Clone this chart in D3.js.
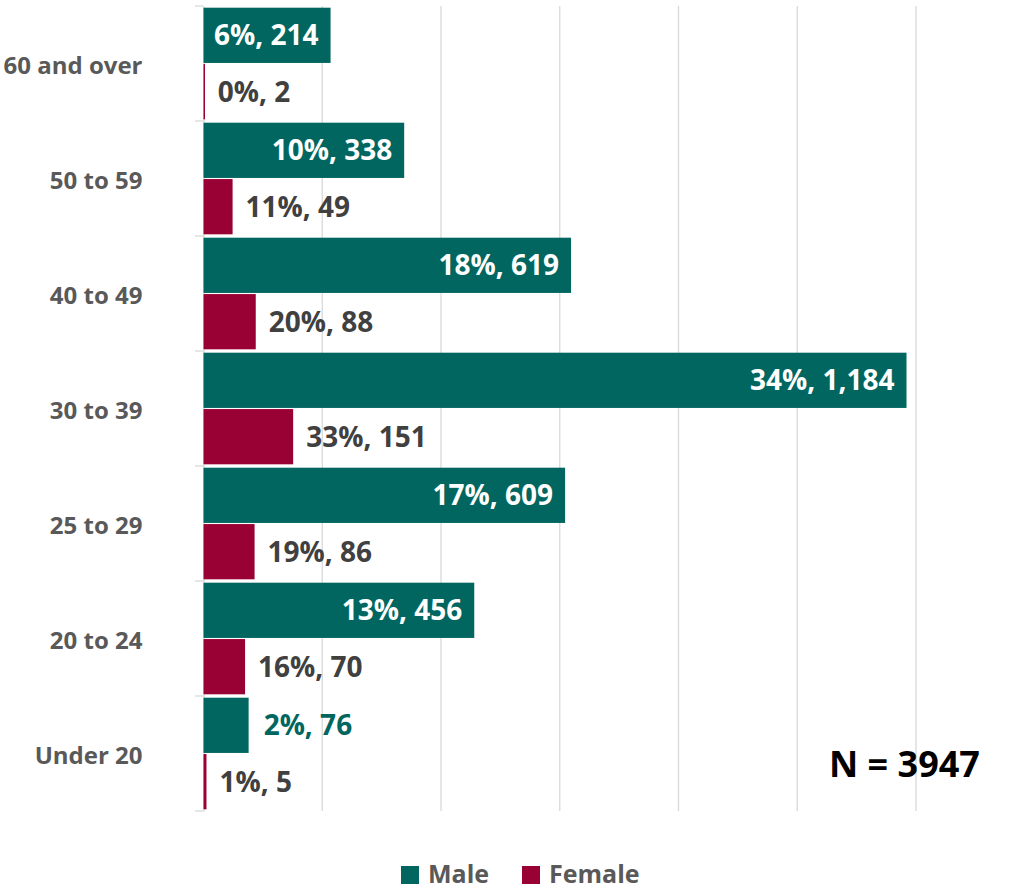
<!DOCTYPE html>
<html><head><meta charset="utf-8">
<script src="https://cdn.jsdelivr.net/npm/d3@7"></script>
<style>body{margin:0;background:#fff}svg{display:block}text{font-family:"Open Sans",sans-serif;font-weight:700}</style>
</head><body>
<svg id="c" width="1025" height="892"></svg>
<script>
const categories = ["60 and over","50 to 59","40 to 49","30 to 39","25 to 29","20 to 24","Under 20"];
const maleCounts = [214,338,619,1184,609,456,76];
const femaleCounts = [2,49,88,151,86,70,5];
const malePct = ["6%","10%","18%","34%","17%","13%","2%"];
const femalePct = ["0%","11%","20%","33%","19%","16%","1%"];
const xTicks = [0,200,400,600,800,1000,1200];
const seriesNames = ["Male","Female"];
const colors = {Male:"#00665f", Female:"#990033"};

const svg = d3.select("#c");
const x = d3.scaleLinear().domain([0,1200]).range([203.5,916]);
const y = d3.scaleBand().domain(categories).range([6,811]);
const inner = d3.scaleBand().domain(seriesNames).range([0,y.bandwidth()]).paddingOuter(0.03).paddingInner(0.02);
const fmt = d3.format(",");

// gridlines
svg.append("g").selectAll("line").data(xTicks.slice(1)).join("line")
  .attr("x1",d=>x(d)).attr("x2",d=>x(d)).attr("y1",6).attr("y2",811)
  .attr("stroke","#d9d9d9").attr("stroke-width",1.3);

// y axis
const yAxis = d3.axisLeft(y).tickSize(0).tickPadding(60);
const ax = svg.append("g").attr("transform","translate(203.5,0)").call(yAxis);
ax.select(".domain").attr("stroke","#d9d9d9").attr("stroke-width",1.3);
ax.selectAll("text").attr("font-size",24).attr("fill","#595959").attr("font-family","Open Sans").attr("font-weight",700).attr("dx",0).attr("x",-61).attr("dy","0.42em");
// band boundary ticks
svg.append("g").selectAll("line").data(categories.map(c=>y(c)).concat([y.range()[1]])).join("line")
  .attr("x1",195).attr("x2",203.5).attr("y1",d=>d).attr("y2",d=>d)
  .attr("stroke","#d9d9d9").attr("stroke-width",1.3);

const rows = categories.map((c,i)=>({c, m:maleCounts[i], f:femaleCounts[i], mp:malePct[i], fp:femalePct[i]}));

const g = svg.append("g");
rows.forEach(r=>{
  const yb = y(r.c);
  const ym = yb + inner("Male"), yf = yb + inner("Female"), h = inner.bandwidth();
  g.append("rect").attr("x",x(0)).attr("y",ym).attr("width",x(r.m)-x(0)).attr("height",h).attr("fill",colors.Male);
  g.append("rect").attr("x",x(0)).attr("y",yf).attr("width",Math.max(1.5,x(r.f)-x(0))).attr("height",h).attr("fill",colors.Female);
  const mlabel = r.mp+", "+fmt(r.m);
  const inside = x(r.m)-x(0) > 100;
  g.append("text").attr("x", inside ? x(r.m)-12 : x(r.m)+15).attr("y",ym+h/2).attr("dy","0.36em")
    .attr("text-anchor", inside ? "end":"start").attr("font-size",28)
    .attr("fill", inside ? "#fff" : colors.Male).text(mlabel);
  g.append("text").attr("x", x(r.f)+13).attr("y",yf+h/2).attr("dy","0.36em")
    .attr("font-size",28).attr("fill","#404040").text(r.fp+", "+fmt(r.f));
});

// N annotation
svg.append("text").attr("x",829).attr("y",777).attr("font-size",36).attr("fill","#000").text("N = 3947");

// legend
const lg = svg.append("g");
const legendItems = [{n:"Male",x:401},{n:"Female",x:522}];
legendItems.forEach(it=>{
  lg.append("rect").attr("x",it.x).attr("y",866).attr("width",18).attr("height",18).attr("fill",colors[it.n]);
  lg.append("text").attr("x",it.x+27).attr("y",883).attr("font-size",25).attr("fill","#595959").text(it.n);
});
</script>
</body></html>
